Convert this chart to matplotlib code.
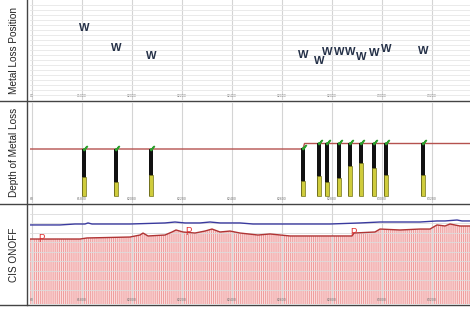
import matplotlib
matplotlib.use('Agg')
import matplotlib.pyplot as plt
from matplotlib.lines import Line2D
import numpy as np

plt.rcParams['font.family'] = ['Liberation Sans', 'DejaVu Sans']
plt.rcParams['hatch.linewidth'] = 0.7

# chainage ticks shared by all three tracks
tick_pos = [61600, 61800, 62000, 62200, 62400, 62600, 62800, 63000, 63200]
tick_lab = ['60', '61800', '62000', '62200', '62400', '62600', '62800', '63000', '63200']

# metal loss features (chainage)
feat_x = [61808, 61936, 62076, 62684, 62748, 62780, 62828, 62872, 62916, 62968, 63016, 63164]
# position on circumference (track units)
feat_pos = [14.4, 10.4, 8.8, 9.0, 7.8, 9.6, 9.6, 9.6, 8.6, 9.4, 10.2, 9.8]
# depth track: full bar and measured loss
feat_bar = [47, 47, 47, 48, 53, 53, 53, 53, 53, 53, 53, 53]
feat_depth = [19, 14, 21, 15, 20, 14, 18, 30, 33, 28, 21, 21]

# reporting threshold line (steps up after 62684)
thr_x = [61592, 62684, 62690, 63352]
thr_y = [47, 47, 52.5, 52.5]

# CIS survey: ON and OFF potentials
off_x = [61592, 61792, 61820, 61992, 62032, 62044, 62064, 62132, 62160, 62176, 62204, 62252,
         62292, 62320, 62352, 62392, 62432, 62504, 62552, 62632, 62712, 62792, 62880, 62888,
         62972, 62992, 63072, 63152, 63192, 63220, 63252, 63272, 63312, 63352]
off_y = [5.34, 5.34, 5.45, 5.55, 5.76, 5.97, 5.66, 5.76, 6.08, 6.29, 6.08, 5.97,
         6.18, 6.39, 6.08, 6.18, 5.97, 5.76, 5.87, 5.66, 5.66, 5.66, 5.66, 5.97,
         6.08, 6.39, 6.29, 6.39, 6.39, 6.82, 6.71, 6.92, 6.71, 6.71]
on_x = [61592, 61712, 61772, 61812, 61824, 61840, 61992, 62132, 62172, 62212, 62272, 62312,
        62352, 62432, 62484, 62672, 62792, 62912, 62992, 63152, 63220, 63252, 63300, 63320, 63352]
on_y = [6.82, 6.82, 6.92, 6.92, 7.03, 6.92, 6.92, 7.03, 7.13, 7.03, 7.03, 7.13,
        7.03, 7.03, 6.92, 6.92, 6.92, 7.03, 7.13, 7.13, 7.24, 7.24, 7.34, 7.24, 7.24]
p_x = [61636, 62224, 62884]
p_y = [5.34, 6.08, 5.97]

H = 313.0
fig = plt.figure(figsize=(4.7, 3.13), dpi=100)
left, width = 30 / 470, 440 / 470
ax1 = fig.add_axes([left, 1 - 100 / H, width, 100 / H])
ax2 = fig.add_axes([left, 1 - 203 / H, width, 100 / H])
ax3 = fig.add_axes([left, 1 - 304 / H, width, 99 / H])

for ax in (ax1, ax2, ax3):
    ax.set_xlim(61592, 63352)
    ax.set_xticks(tick_pos)
    ax.set_xticklabels(tick_lab)
    ax.tick_params(axis='x', length=0, pad=-4.5, labelsize=2.5, labelcolor='#777777')
    ax.tick_params(axis='y', length=0, labelleft=False)
    ax.grid(axis='x', color='#d4d4d4', lw=0.8)
    for s in ax.spines.values():
        s.set_visible(False)

# track 1: metal loss position
ax1.set_ylim(0, 20)
ax1.set_yticks(range(1, 20))
ax1.grid(axis='y', color='#e6e6e6', lw=0.6)
for x, y in zip(feat_x, feat_pos):
    ax1.text(x, y, 'W', ha='center', va='center', fontsize=8, fontweight='bold', color='#243047')

# track 2: depth of metal loss
ax2.set_ylim(-7, 93)
ax2.set_yticks([])
ax2.plot(thr_x, thr_y, color='#b5524f', lw=1)
ax2.bar(feat_x, feat_bar, width=13, color='#111111', zorder=3)
ax2.bar(feat_x, feat_depth, width=13, color='#cfcc3c', edgecolor='#75751c', lw=0.5, zorder=4)
ax2.scatter(np.array(feat_x) + 4, np.array(feat_bar) + 1.5, marker='$\\checkmark$', s=9,
            color='#2e9e2e', zorder=5)

# track 3: CIS on/off
ax3.set_ylim(-1.5, 8.92)
ax3.set_yticks(range(0, 9))
ax3.grid(axis='y', color='#dcdcdc', lw=0.6)
ax3.fill_between(off_x, -1.5, off_y, facecolor='#fbdede', edgecolor='#ee9c9c', hatch='|' * 8, lw=0)
ax3.plot(on_x, on_y, color='#3a3a9e', lw=1)
ax3.plot(off_x, off_y, color='#b03434', lw=1)
for x, y in zip(p_x, p_y):
    ax3.text(x, y, 'P', ha='center', va='center', fontsize=7, color='#e03030')

# track dividers and label column
for yp in (101, 203.5, 304.5):
    fig.add_artist(Line2D([0, 1], [1 - yp / H] * 2, color='#444444', lw=1, transform=fig.transFigure))
fig.add_artist(Line2D([27 / 470] * 2, [1 - 305 / H, 1], color='#444444', lw=1, transform=fig.transFigure))

for yc, lab in ((50, 'Metal Loss Position'), (152, 'Depth of Metal Loss'), (255, 'CIS ONOFF')):
    fig.text(14 / 470, 1 - yc / H, lab, rotation=90, ha='center', va='center', fontsize=7.2, color='#222222')

fig.savefig('out.png', dpi=100)
